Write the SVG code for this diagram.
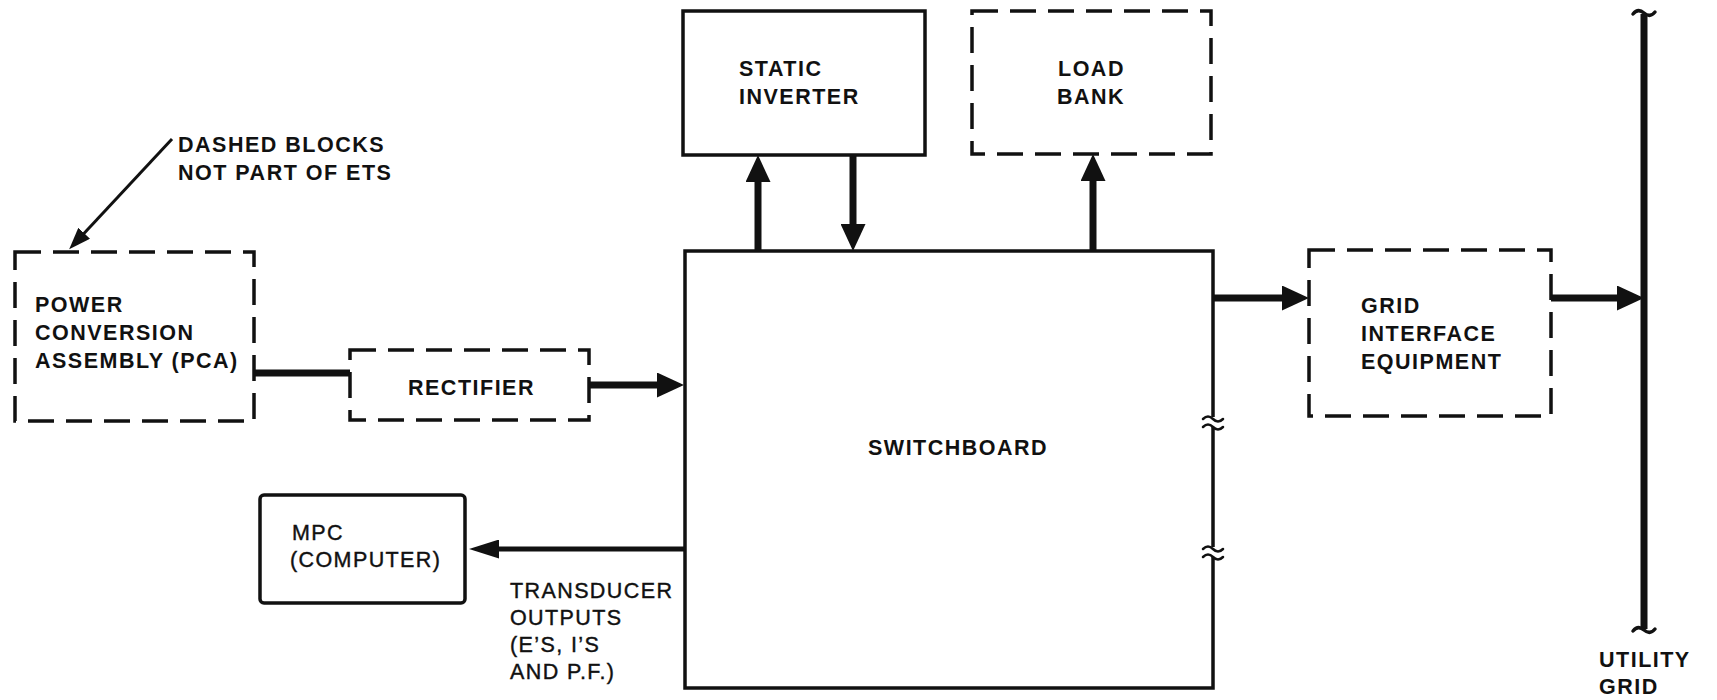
<svg xmlns="http://www.w3.org/2000/svg" width="1717" height="700" viewBox="0 0 1717 700">
<style>
  .box{fill:#fff;stroke:#111;stroke-width:3.5}
  .dash{fill:#fff;stroke:#111;stroke-width:3.5;stroke-dasharray:26 12}
  .t{font-family:"Liberation Sans",Arial,sans-serif;font-size:21.5px;font-weight:bold;letter-spacing:1.5px;fill:#111}
  .tn{font-family:"Liberation Sans",Arial,sans-serif;font-size:21.5px;font-weight:normal;letter-spacing:1.4px;fill:#111;stroke:#111;stroke-width:0.4}
  .thick{stroke:#111;stroke-width:7;fill:none}
  .mid{stroke:#111;stroke-width:5;fill:none}
  .thin{stroke:#111;stroke-width:3;fill:none}
  .brk{stroke:#111;stroke-width:2.5;fill:none;stroke-linecap:round}
</style>
<defs>
  <marker id="ah" markerUnits="userSpaceOnUse" markerWidth="27" markerHeight="25" refX="12" refY="12.5" orient="auto">
    <path d="M0,0 L27,12.5 L0,25 z" fill="#111"/>
  </marker>
  <marker id="ahm" markerUnits="userSpaceOnUse" markerWidth="30" markerHeight="19" refX="14" refY="9.5" orient="auto">
    <path d="M0,0 L30,9.5 L0,19 z" fill="#111"/>
  </marker>
  <marker id="ahs" markerUnits="userSpaceOnUse" markerWidth="22" markerHeight="16" refX="12" refY="8" orient="auto">
    <path d="M0,0 L22,8 L0,16 z" fill="#111"/>
  </marker>
</defs>
<rect width="1717" height="700" fill="#fff"/>

<g id="connectors">
  <line class="thick" x1="254" y1="373" x2="350" y2="373"/>
  <line class="thick" x1="589" y1="385" x2="669" y2="385" marker-end="url(#ah)"/>
  <line class="thick" x1="758" y1="251" x2="758" y2="170" marker-end="url(#ah)"/>
  <line class="thick" x1="853" y1="155" x2="853" y2="236" marker-end="url(#ah)"/>
  <line class="thick" x1="1093" y1="251" x2="1093" y2="169" marker-end="url(#ah)"/>
  <line class="thick" x1="1213" y1="298" x2="1294" y2="298" marker-end="url(#ah)"/>
  <line class="thick" x1="1551" y1="298" x2="1629" y2="298" marker-end="url(#ah)"/>
  <line class="mid" x1="686" y1="549" x2="485" y2="549" marker-end="url(#ahm)"/>
  <line class="thin" x1="172" y1="139" x2="76" y2="242" marker-end="url(#ahs)"/>
</g>

<g id="pca">
  <rect class="dash" x="15" y="252" width="239" height="169"/>
  <text class="t" x="35" y="312">POWER</text>
  <text class="t" x="35" y="340">CONVERSION</text>
  <text class="t" x="35" y="368">ASSEMBLY (PCA)</text>
</g>

<g id="note">
  <text class="t" x="178" y="152">DASHED BLOCKS</text>
  <text class="t" x="178" y="180">NOT PART OF ETS</text>
</g>

<g id="rectifier">
  <rect class="dash" x="350" y="350" width="239" height="70"/>
  <text class="t" x="408" y="395">RECTIFIER</text>
</g>

<g id="static-inverter">
  <rect class="box" x="683" y="11" width="242" height="144"/>
  <text class="t" x="739" y="76">STATIC</text>
  <text class="t" x="739" y="104">INVERTER</text>
</g>

<g id="load-bank">
  <rect class="dash" x="972" y="11" width="239" height="143"/>
  <text class="t" x="1058" y="76">LOAD</text>
  <text class="t" x="1057" y="104">BANK</text>
</g>

<g id="switchboard">
  <rect class="box" x="685" y="251" width="528" height="437"/>
  <text class="t" x="868" y="455">SWITCHBOARD</text>
  <rect x="1206" y="417" width="14" height="10" fill="#fff"/>
  <path class="brk" d="M1203,419 q5,-5 10,0 t10,0 M1203,427 q5,-5 10,0 t10,0"/>
  <rect x="1206" y="547" width="14" height="10" fill="#fff"/>
  <path class="brk" d="M1203,549 q5,-5 10,0 t10,0 M1203,557 q5,-5 10,0 t10,0"/>
</g>

<g id="grid-interface">
  <rect class="dash" x="1309" y="250" width="242" height="166"/>
  <text class="t" x="1361" y="313">GRID</text>
  <text class="t" x="1361" y="341">INTERFACE</text>
  <text class="t" x="1361" y="369">EQUIPMENT</text>
</g>

<g id="utility-grid">
  <line class="thick" x1="1644" y1="14" x2="1644" y2="629"/>
  <path d="M1633,14 q5,-6 11,-1 t11,-1" stroke="#111" stroke-width="3.5" fill="none" stroke-linecap="round"/>
  <path d="M1633,631 q5,-6 11,-1 t11,-1" stroke="#111" stroke-width="3.5" fill="none" stroke-linecap="round"/>
  <text class="t" x="1599" y="667">UTILITY</text>
  <text class="t" x="1599" y="694">GRID</text>
</g>

<g id="mpc">
  <rect class="box" x="260" y="495" width="205" height="108" rx="4"/>
  <text class="tn" x="292" y="540">MPC</text>
  <text class="tn" x="290" y="567">(COMPUTER)</text>
</g>

<g id="transducer-label">
  <text class="tn" x="510" y="598">TRANSDUCER</text>
  <text class="tn" x="510" y="625">OUTPUTS</text>
  <text class="tn" x="510" y="652">(E’S, I’S</text>
  <text class="tn" x="510" y="679">AND P.F.)</text>
</g>
</svg>
